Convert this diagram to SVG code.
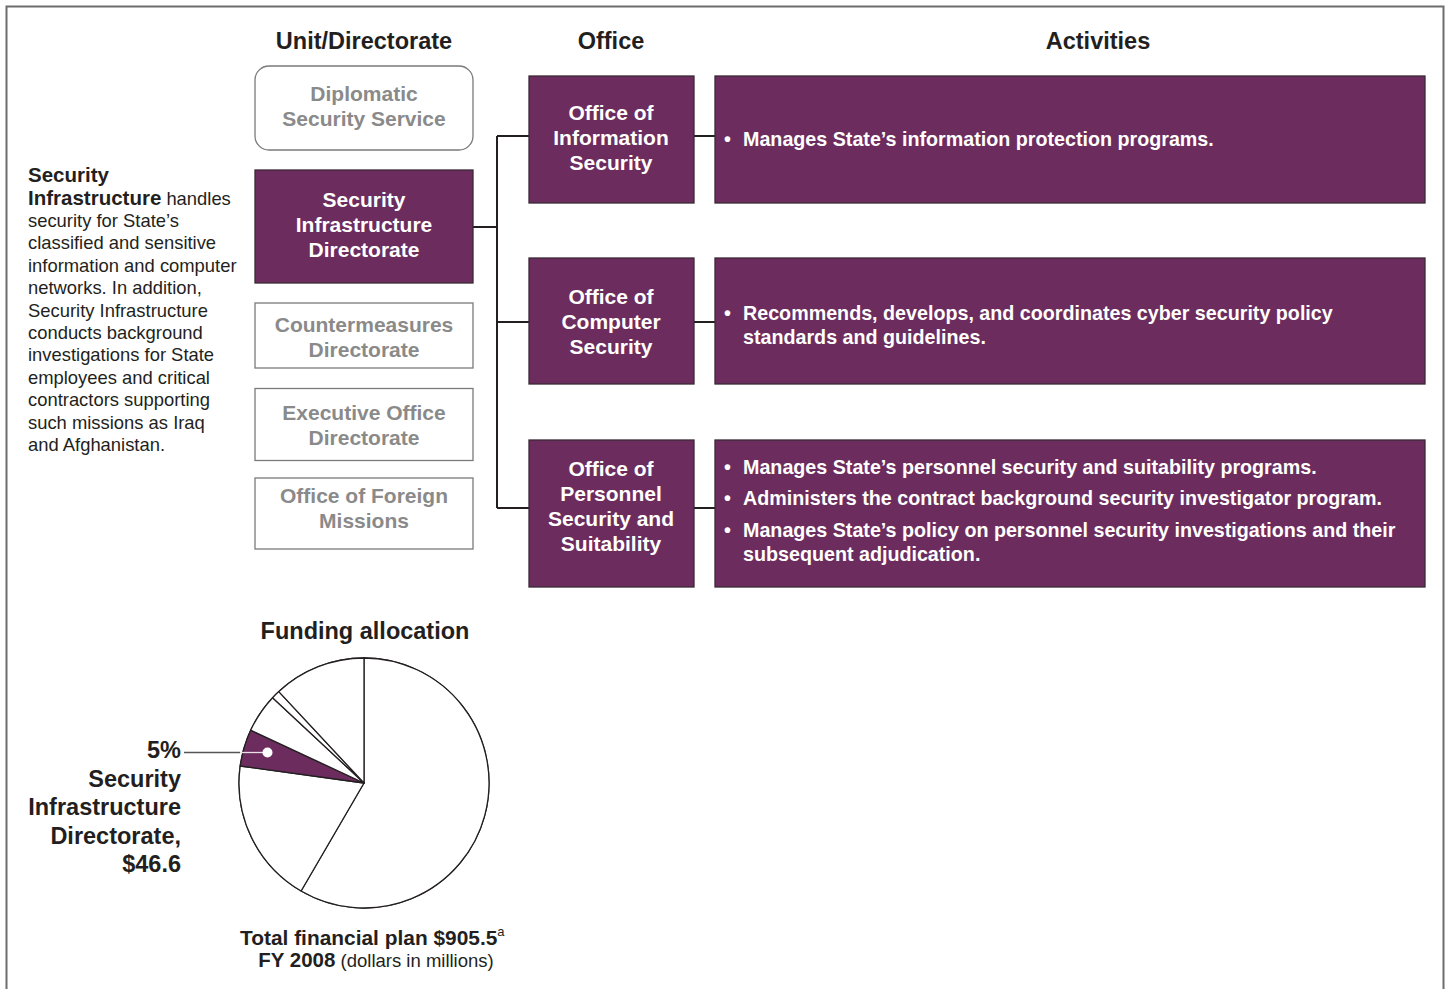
<svg xmlns="http://www.w3.org/2000/svg" width="1447" height="989" viewBox="0 0 1447 989">
  <style>
    text { font-family: "Liberation Sans", Arial, Helvetica, sans-serif; fill: #231f20; }
    .hdr { font-size: 23.5px; font-weight: bold; text-anchor: middle; }
    .unit { font-size: 21px; font-weight: bold; text-anchor: middle; fill: #8a8a8a; }
    .unitbox { fill: #ffffff; stroke: #7a7a7a; stroke-width: 1.3; }
    .purple { fill: #6c2d5e; stroke: #3a2a35; stroke-width: 1.3; }
    .wt { font-size: 21px; font-weight: bold; text-anchor: middle; fill: #ffffff; }
    .act { font-size: 19.7px; font-weight: bold; fill: #ffffff; }
    .desc { font-size: 18.4px; }
    .b { font-weight: bold; font-size: 20.5px; }
    .conn { stroke: #231f20; stroke-width: 2; fill: none; }
    .slice { fill: #ffffff; stroke: #231f20; stroke-width: 1.3; stroke-linejoin: round; }
    .pielbl { font-size: 23.5px; font-weight: bold; text-anchor: end; }
  </style>

  <!-- outer frame -->
  <path d="M6.5 995 V6.5 H1443.5 V995" fill="none" stroke="#6d6d6d" stroke-width="2"/>

  <!-- column headers -->
  <g id="headers">
    <text class="hdr" x="364" y="49">Unit/Directorate</text>
    <text class="hdr" x="611" y="49">Office</text>
    <text class="hdr" x="1098" y="49">Activities</text>
  </g>

  <!-- description -->
  <g id="description">
    <text class="desc" x="28" y="182"><tspan class="b">Security</tspan></text>
    <text class="desc" x="28" y="204.5"><tspan class="b">Infrastructure</tspan> handles</text>
    <text class="desc" x="28" y="227">security for State’s</text>
    <text class="desc" x="28" y="249.4">classified and sensitive</text>
    <text class="desc" x="28" y="271.8">information and computer</text>
    <text class="desc" x="28" y="294.2">networks. In addition,</text>
    <text class="desc" x="28" y="316.6">Security Infrastructure</text>
    <text class="desc" x="28" y="339">conducts background</text>
    <text class="desc" x="28" y="361.4">investigations for State</text>
    <text class="desc" x="28" y="383.8">employees and critical</text>
    <text class="desc" x="28" y="406.2">contractors supporting</text>
    <text class="desc" x="28" y="428.6">such missions as Iraq</text>
    <text class="desc" x="28" y="451">and Afghanistan.</text>
  </g>

  <!-- connectors -->
  <g id="connectors">
    <path class="conn" d="M473 227 H497"/>
    <path class="conn" d="M497 136 V508"/>
    <path class="conn" d="M497 136 H529"/>
    <path class="conn" d="M497 322 H529"/>
    <path class="conn" d="M497 508 H529"/>
    <path class="conn" d="M694 136 H715"/>
    <path class="conn" d="M694 322 H715"/>
    <path class="conn" d="M694 508 H715"/>
  </g>

  <!-- unit / directorate column -->
  <g id="unit-dss">
    <rect class="unitbox" x="255" y="66" width="218" height="84" rx="14"/>
    <text class="unit" x="364" y="101">Diplomatic</text>
    <text class="unit" x="364" y="126">Security Service</text>
  </g>
  <g id="unit-sid">
    <rect class="purple" x="255" y="170" width="218" height="113"/>
    <text class="wt" x="364" y="207">Security</text>
    <text class="wt" x="364" y="232">Infrastructure</text>
    <text class="wt" x="364" y="257">Directorate</text>
  </g>
  <g id="unit-cm">
    <rect class="unitbox" x="255" y="303" width="218" height="65"/>
    <text class="unit" x="364" y="332">Countermeasures</text>
    <text class="unit" x="364" y="357">Directorate</text>
  </g>
  <g id="unit-exec">
    <rect class="unitbox" x="255" y="388.5" width="218" height="72"/>
    <text class="unit" x="364" y="420">Executive Office</text>
    <text class="unit" x="364" y="445">Directorate</text>
  </g>
  <g id="unit-ofm">
    <rect class="unitbox" x="255" y="478" width="218" height="71"/>
    <text class="unit" x="364" y="503">Office of Foreign</text>
    <text class="unit" x="364" y="528">Missions</text>
  </g>

  <!-- offices -->
  <g id="office-info">
    <rect class="purple" x="529" y="76" width="165" height="127"/>
    <text class="wt" x="611" y="119.5">Office of</text>
    <text class="wt" x="611" y="144.5">Information</text>
    <text class="wt" x="611" y="169.5">Security</text>
  </g>
  <g id="office-comp">
    <rect class="purple" x="529" y="258" width="165" height="126"/>
    <text class="wt" x="611" y="303.5">Office of</text>
    <text class="wt" x="611" y="328.5">Computer</text>
    <text class="wt" x="611" y="353.5">Security</text>
  </g>
  <g id="office-pers">
    <rect class="purple" x="529" y="440" width="165" height="147"/>
    <text class="wt" x="611" y="476">Office of</text>
    <text class="wt" x="611" y="501">Personnel</text>
    <text class="wt" x="611" y="526">Security and</text>
    <text class="wt" x="611" y="551">Suitability</text>
  </g>

  <!-- activities -->
  <g id="act-info">
    <rect class="purple" x="715" y="76" width="710" height="127"/>
    <text class="act" x="724" y="146">•</text>
    <text class="act" x="743" y="146">Manages State’s information protection programs.</text>
  </g>
  <g id="act-comp">
    <rect class="purple" x="715" y="258" width="710" height="126"/>
    <text class="act" x="724" y="320">•</text>
    <text class="act" x="743" y="320">Recommends, develops, and coordinates cyber security policy</text>
    <text class="act" x="743" y="344">standards and guidelines.</text>
  </g>
  <g id="act-pers">
    <rect class="purple" x="715" y="440" width="710" height="147"/>
    <text class="act" x="724" y="474">•</text>
    <text class="act" x="743" y="474">Manages State’s personnel security and suitability programs.</text>
    <text class="act" x="724" y="505">•</text>
    <text class="act" x="743" y="505">Administers the contract background security investigator program.</text>
    <text class="act" x="724" y="537">•</text>
    <text class="act" x="743" y="537">Manages State’s policy on personnel security investigations and their</text>
    <text class="act" x="743" y="561">subsequent adjudication.</text>
  </g>

  <!-- funding pie -->
  <g id="funding">
    <text class="hdr" x="365" y="639" font-size="22px">Funding allocation</text>
    <circle cx="364" cy="783" r="125" fill="#ffffff" stroke="#231f20" stroke-width="1.3"/>
    <path class="slice" d="M364 783 L364 658 A125 125 0 1 1 301.1 891 Z"/>
    <path class="slice" d="M364 783 L301.1 891 A125 125 0 0 1 240.2 766 Z"/>
    <path d="M364 783 L240.2 766 A125 125 0 0 1 250.7 730.2 Z" fill="#6c2d5e" stroke="#231f20" stroke-width="1.3" stroke-linejoin="round"/>
    <path class="slice" d="M364 783 L250.7 730.2 A125 125 0 0 1 272.6 697.7 Z"/>
    <path class="slice" d="M364 783 L272.6 697.7 A125 125 0 0 1 278.8 691.6 Z"/>
    <path class="slice" d="M364 783 L278.8 691.6 A125 125 0 0 1 364 658 Z"/>
    <!-- callout for the highlighted slice -->
    <path d="M184 752.5 H240" stroke="#555555" stroke-width="1.3"/>
    <path d="M240 752.5 H267" stroke="#e8e0e6" stroke-width="1.3"/>
    <circle cx="267.5" cy="752.5" r="5" fill="#ffffff"/>
    <text class="pielbl" x="181" y="758">5%</text>
    <text class="pielbl" x="181" y="786.5">Security</text>
    <text class="pielbl" x="181" y="815">Infrastructure</text>
    <text class="pielbl" x="181" y="843.5">Directorate,</text>
    <text class="pielbl" x="181" y="872">$46.6</text>
    <text x="240" y="945" font-size="20.9px" font-weight="bold">Total financial plan $905.5<tspan font-size="13px" font-weight="normal" dy="-9">a</tspan></text>
    <text x="376" y="967" font-size="18.5px" text-anchor="middle"><tspan font-weight="bold" font-size="20.5px">FY 2008</tspan> (dollars in millions)</text>
  </g>
</svg>
